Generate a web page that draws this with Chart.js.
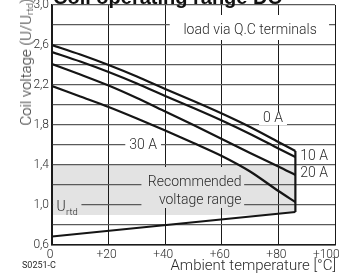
<!DOCTYPE html>
<html>
<head>
<meta charset="utf-8">
<script src="https://cdn.jsdelivr.net/npm/chart.js@4/dist/chart.umd.min.js"></script>
<style>
  html, body { margin: 0; padding: 0; background: #fff; overflow: hidden; }
  #wrap { position: relative; width: 347px; height: 278px; }
  #wrap canvas { position: absolute; left: 0; top: 0; }
  .txt { position: absolute; white-space: nowrap; color: #2a2a2a; font-family: Roboto, 'Liberation Sans', sans-serif; font-weight: 300; }
  .title { left: 53px; top: -13.5px; font-size: 20px; font-weight: bold; line-height: 20px; color: #111; font-family: 'Liberation Sans', Arial, sans-serif; }
  .ytitle { left: 28px; top: 62px; font-size: 15px; line-height: 16px; transform: translate(-50%, -50%) rotate(-90deg); }
  .ytitle sub { font-size: 9.5px; vertical-align: -2px; }
  .xtitle { right: 11px; top: 256px; font-size: 15px; line-height: 18px; }
  .code { left: 22px; top: 260px; font-size: 9px; line-height: 11px; font-weight: 400; }
</style>
</head>
<body>
<div id="wrap">
  <canvas id="chart" width="347" height="278"></canvas>
  <div class="txt title">Coil operating range DC</div>
  <div class="txt ytitle">Coil voltage (U/U<sub>rtd</sub>)</div>
  <div class="txt xtitle">Ambient temperature [°C]</div>
  <div class="txt code">S0251-C</div>
</div>
<script>
// ambient temperature (°C) where the curves were read
const tempC = [0, 10, 20, 30, 40, 50, 60, 70, 80, 86];
// max. coil voltage U/Urtd for each load current
const v0A  = [2.60, 2.505, 2.40, 2.285, 2.16, 2.04, 1.915, 1.78, 1.63, 1.54];
const v10A = [2.53, 2.435, 2.33, 2.215, 2.09, 1.97, 1.845, 1.71, 1.565, 1.48];
const v20A = [2.41, 2.305, 2.195, 2.07, 1.935, 1.80, 1.66, 1.52, 1.385, 1.30];
const v30A = [2.19, 2.085, 1.98, 1.865, 1.745, 1.62, 1.49, 1.335, 1.14, 1.03];
// min. operate voltage
const tempMin = [0, 86];
const vMin = [0.685, 0.93];
// recommended voltage range
const rangeTemp = [0, 75, 86];
const rangeHigh = [1.4, 1.4, 1.4];
const rangeLow = [0.9, 0.9, 0.93];
// axis ticks
const yLabelValues = [0.6, 1.0, 1.4, 1.8, 2.2, 2.6, 3.0];
const xTickValues = [0, 20, 40, 60, 80, 100];

const GRAY = '#e3e3e3';
const INK = '#151515';
const TEXT = '#2a2a2a';
const NOTE_FONT = '300 14px Roboto, "Liberation Sans", sans-serif';
const SUB_FONT = '300 9.5px Roboto, "Liberation Sans", sans-serif';
const TICK_FONT = { family: 'Roboto, "Liberation Sans", sans-serif', size: 12, weight: 300 };

const pts = (xs, ys) => xs.map((t, i) => ({ x: t, y: ys[i] }));
const last = a => a[a.length - 1];

// background boxes that break the grid behind the texts
const boxes = [
  { x0: 41.6, x1: 97.9, y0: 2.90, y1: 2.65, bg: '#fff' },
  { x0: 31.6, x1: 67.9, y0: 1.38, y1: 0.97, bg: GRAY },
  { x0: 0.4, x1: 10.4, y0: 1.05, y1: 0.91, bg: GRAY },
];
const notes = [
  { text: 'load via Q.C terminals', x: 70, y: 2.75, align: 'center' },
  { text: '0 A', x: 78.1, y: 1.87, align: 'center', bg: '#fff' },
  { text: '30 A', x: 32.2, y: 1.60, align: 'center', bg: '#fff' },
  { text: '10 A', x: 87.7, y: 1.485, align: 'left', bg: '#fff' },
  { text: '20 A', x: 87.7, y: 1.315, align: 'left', bg: '#fff' },
  { text: 'Recommended', x: 67.0, y: 1.23, align: 'right' },
  { text: 'voltage range', x: 67.0, y: 1.05, align: 'right' },
  { text: 'U', x: 1.55, y: 0.975, align: 'left', sub: 'rtd' },
];

const notesPlugin = {
  id: 'notes',
  beforeDatasetsDraw(chart) {
    const { ctx, scales: { x, y } } = chart;
    ctx.save();
    boxes.forEach(b => {
      const l = x.getPixelForValue(b.x0), r = x.getPixelForValue(b.x1);
      const t = y.getPixelForValue(b.y0), btm = y.getPixelForValue(b.y1);
      ctx.fillStyle = b.bg;
      ctx.fillRect(l, t, r - l, btm - t);
    });
    ctx.font = NOTE_FONT;
    ctx.textBaseline = 'middle';
    notes.forEach(n => {
      const px = x.getPixelForValue(n.x), py = y.getPixelForValue(n.y);
      const w = ctx.measureText(n.text).width;
      if (n.bg) {
        let l = px;
        if (n.align === 'center') l = px - w / 2;
        if (n.align === 'right') l = px - w;
        ctx.fillStyle = n.bg;
        ctx.fillRect(l - 4, py - 7, w + 8, 14);
      }
      ctx.fillStyle = TEXT;
      ctx.textAlign = n.align;
      ctx.fillText(n.text, px, py);
      if (n.sub) {
        ctx.font = SUB_FONT;
        ctx.textAlign = 'left';
        ctx.fillText(n.sub, px + w + 0.5, py + 5);
        ctx.font = NOTE_FONT;
      }
    });
    ctx.restore();
  }
};

const curve = (data) => ({
  data, borderColor: INK, borderWidth: 2.2, pointRadius: 0, fill: false, tension: 0.3,
});

new Chart(document.getElementById('chart'), {
  type: 'line',
  data: {
    datasets: [
      { data: pts(rangeTemp, rangeHigh), borderWidth: 0, pointRadius: 0, fill: '+1', backgroundColor: GRAY },
      { data: pts(rangeTemp, rangeLow), borderWidth: 0, pointRadius: 0, fill: false },
      curve(pts(tempC, v0A)),
      curve(pts(tempC, v10A)),
      curve(pts(tempC, v20A)),
      curve(pts(tempC, v30A)),
      curve(pts(tempMin, vMin)),
      curve([{ x: last(tempC), y: last(v0A) }, { x: last(tempMin), y: last(vMin) }]),
    ]
  },
  options: {
    responsive: false,
    animation: false,
    layout: { padding: { top: 5, right: 12, left: 0, bottom: 0 } },
    plugins: {
      legend: { display: false },
      tooltip: { enabled: false },
      filler: { drawTime: 'beforeDraw' },
    },
    scales: {
      x: {
        type: 'linear', min: 0, max: 100,
        afterFit: s => { s.height = 33; s.paddingLeft = 0; s.paddingRight = 0; },
        afterBuildTicks: s => { s.ticks = xTickValues.map(v => ({ value: v })); },
        ticks: {
          color: TEXT, font: TICK_FONT, padding: 3, maxRotation: 0, labelOffset: -2,
          // last label sits a little left of its grid line in the original
          callback: v => (v === 0 ? '0' : v === 100 ? '+100\u2007\u2007' : '+' + v),
        },
        grid: { color: '#1a1a1a', lineWidth: 1, drawTicks: false },
        border: { color: '#1a1a1a', width: 1.5 },
      },
      y: {
        min: 0.6, max: 3.0,
        afterFit: s => { s.width = 52; s.paddingTop = 0; s.paddingBottom = 0; },
        ticks: {
          stepSize: 0.2, color: TEXT, font: TICK_FONT, padding: 3, autoSkip: false,
          callback: v => (yLabelValues.some(t => Math.abs(t - v) < 1e-6) ? v.toFixed(1).replace('.', ',') : ''),
        },
        grid: { color: '#5a5a5a', lineWidth: 1.3, drawTicks: false },
        border: { color: '#1a1a1a', width: 1.5 },
      },
    },
  },
  plugins: [notesPlugin],
});
</script>
</body>
</html>
